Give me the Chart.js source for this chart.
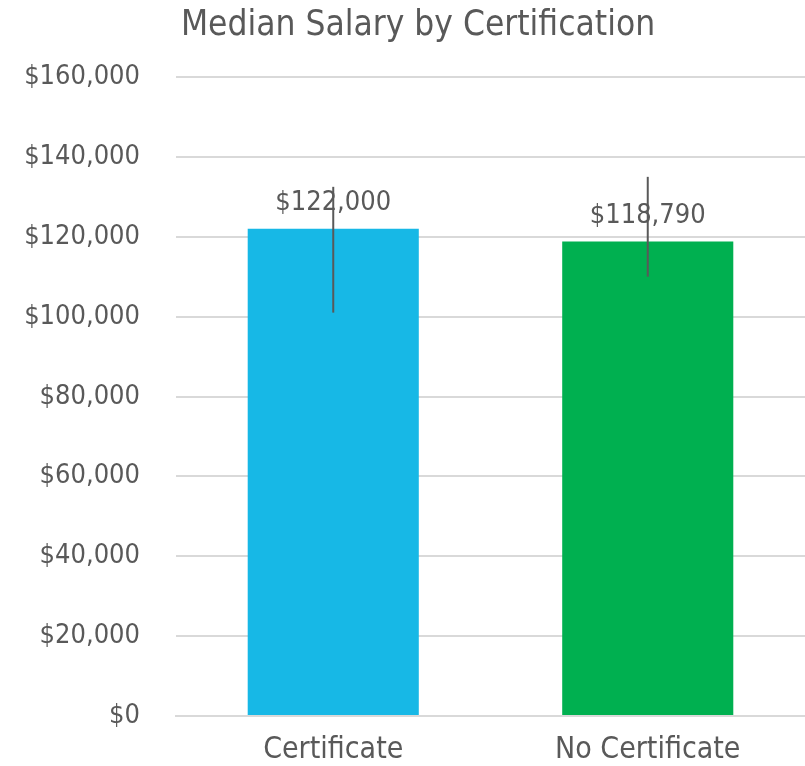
<!DOCTYPE html>
<html>
<head>
<meta charset="utf-8">
<script src="https://cdn.jsdelivr.net/npm/chart.js@4/dist/chart.umd.min.js"></script>
<style>
  html, body { margin: 0; padding: 0; background: #ffffff; }
  #wrap { width: 805px; height: 766px; position: relative; }
</style>
</head>
<body>
<div id="wrap"><canvas id="c" width="805" height="766"></canvas></div>
<script>
const chartTitle = "Median Salary by Certification";
const categories = ["Certificate", "No Certificate"];
const medianSalary = [122000, 118790];
const errorLow = [101000, 110000];
const errorHigh = [132500, 135000];
const barColors = ["#17b8e6", "#00b050"];
const yMin = 0, yMax = 160000, yStep = 20000;

const FONT = "'DejaVu Sans Condensed', 'DejaVu Sans', sans-serif";
const TEXT = "#595959";

function money(v) { return "$" + Math.round(v).toLocaleString("en-US"); }

const extrasPlugin = {
  id: "extras",
  afterDatasetsDraw(chart) {
    const ctx = chart.ctx;
    const y = chart.scales.y;
    const meta = chart.getDatasetMeta(0);
    ctx.save();
    ctx.fillStyle = TEXT;
    ctx.font = "27px " + FONT;
    ctx.textAlign = "center";
    ctx.textBaseline = "alphabetic";
    meta.data.forEach((bar, i) => {
      ctx.fillText(money(medianSalary[i]), bar.x, bar.y - 19);
    });
    ctx.strokeStyle = "#595959";
    ctx.lineWidth = 2;
    meta.data.forEach((bar, i) => {
      ctx.beginPath();
      ctx.moveTo(bar.x, y.getPixelForValue(errorLow[i]));
      ctx.lineTo(bar.x, y.getPixelForValue(errorHigh[i]));
      ctx.stroke();
    });
    ctx.font = "35px " + FONT;
    ctx.textBaseline = "middle";
    ctx.textAlign = "center";
    ctx.fillText(chartTitle, 418, 26);
    ctx.restore();
  }
};

new Chart(document.getElementById("c"), {
  type: "bar",
  data: {
    labels: categories,
    datasets: [{
      data: medianSalary,
      backgroundColor: barColors,
      borderWidth: 0,
      categoryPercentage: 1.0,
      barPercentage: 0.544
    }]
  },
  options: {
    responsive: false,
    animation: false,
    devicePixelRatio: 1,
    layout: { padding: { top: 77, right: 0, left: 0, bottom: 0 } },
    plugins: {
      legend: { display: false },
      title: { display: false },
      tooltip: { enabled: false }
    },
    scales: {
      x: {
        grid: { display: false, drawTicks: false },
        border: { display: true, color: "#d9d9d9", width: 2 },
        ticks: { color: TEXT, font: { family: FONT, size: 30 }, padding: 16 },
        afterFit(scale) { scale.height = 50; }
      },
      y: {
        min: yMin, max: yMax,
        grid: { color: "#d9d9d9", lineWidth: 2, drawTicks: true, tickLength: 10, tickColor: "rgba(0,0,0,0)" },
        border: { display: false },
        ticks: {
          stepSize: yStep,
          color: TEXT,
          font: { family: FONT, size: 27 },
          padding: 26,
          callback: (v) => money(v)
        },
        afterFit(scale) { scale.width = 176; }
      }
    }
  },
  plugins: [extrasPlugin]
});
</script>
</body>
</html>
